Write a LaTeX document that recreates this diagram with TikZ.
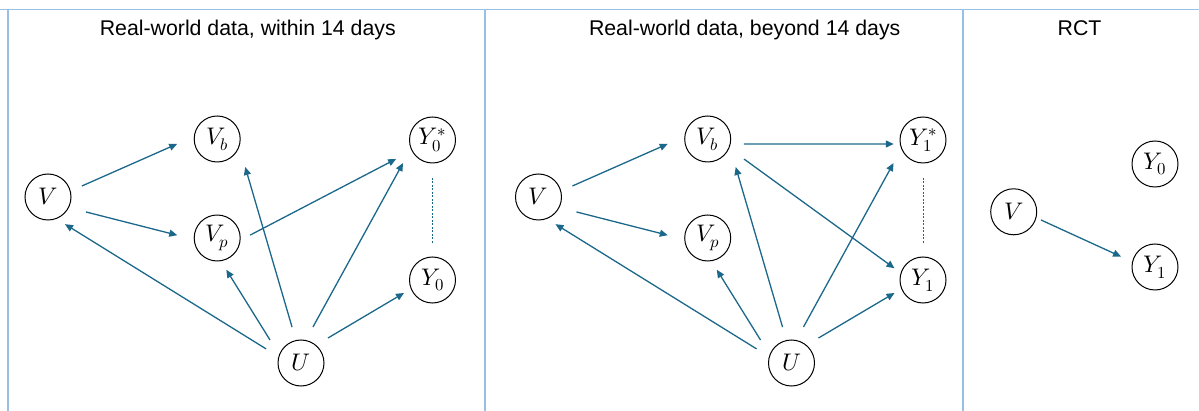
\documentclass[tikz,border=0pt]{standalone}
\usepackage{fontspec}
\usepackage{unicode-math}
\setmainfont{Liberation Sans}
\setmathfont{Latin Modern Math}
\usetikzlibrary{arrows.meta,calc}
\definecolor{arrc}{RGB}{27,104,138}
\definecolor{framec}{RGB}{150,192,230}
\tikzset{
 var/.style={circle,draw=black,line width=1pt,minimum size=46pt,inner sep=0pt,font=\fontsize{24}{24}\selectfont},
 arr/.style={draw=arrc,line width=1.3pt,-{Triangle[length=8pt,width=7pt]}},
 dsh/.style={draw=arrc,line width=1pt,dash pattern=on 2pt off 1.5pt},
 framel/.style={draw=framec,line width=2pt},
 ttl/.style={font=\fontsize{21.3}{24}\selectfont,anchor=base,inner sep=0pt}
}
\begin{document}
\begin{tikzpicture}[x=1pt,y=-1pt]
\useasboundingbox (0,0) rectangle (1199,411);
% frame
\draw[framel,line width=1.5pt] (0,9.7) -- (1199,9.7);
\draw[framel] (8,9.7) -- (8,411);
\draw[framel] (484.7,9.7) -- (484.7,411);
\draw[framel] (963,9.7) -- (963,411);
% titles
\node[ttl] (t1) at (247.8,36) {Real-world data, within 14 days};
\node[ttl] (t2) at (744.7,36) {Real-world data, beyond 14 days};
\node[ttl] (t3) at (1079.5,36) {RCT};
% panel 1
\node[var] (V1) at (48,197) {$V$};
\node[var] (Vb1) at (217.2,139) {$V_b$};
\node[var] (Vp1) at (217.2,238) {$V_p$};
\node[var] (Ys0) at (432.5,140) {$Y_0^*$};
\node[var] (Y0) at (432.5,280) {$Y_0$};
\node[var] (U1) at (301,363) {$U$};
\draw[arr] ($(V1)+(18:35.7pt)$) -- ($(Vb1)+(187:40.3pt)$);
\draw[arr] ($(V1)+(338.5:40.8pt)$) -- ($(Vp1)+(176:40pt)$);
\draw[arr] ($(U1)+(158:37.7pt)$) -- ($(V1)+(302:32pt)$);
\draw[arr] ($(U1)+(143.4:38.6pt)$) -- ($(Vp1)+(286:33pt)$);
\draw[arr] ($(U1)+(104:37pt)$) -- ($(Vb1)+(315:39.6pt)$);
\draw[arr] ($(U1)+(71.6:38pt)$) -- ($(Ys0)+(218:37.4pt)$);
\draw[arr] ($(U1)+(42.8:36.8pt)$) -- ($(Y0)+(204.5:31.3pt)$);
\draw[arr] ($(Vp1)+(5:33pt)$) -- ($(Ys0)+(207.5:41pt)$);
\draw[dsh] ($(Ys0)+(270:38pt)$) -- ($(Y0)+(90:36pt)$);
% panel 2
\node[var] (V2) at (538.5,197) {$V$};
\node[var] (Vb2) at (707.7,139) {$V_b$};
\node[var] (Vp2) at (707.7,238) {$V_p$};
\node[var] (Ys1) at (923,140) {$Y_1^*$};
\node[var] (Y1) at (923,280) {$Y_1$};
\node[var] (U2) at (791.5,363) {$U$};
\draw[arr] ($(V2)+(18:35.7pt)$) -- ($(Vb2)+(187:40.3pt)$);
\draw[arr] ($(V2)+(338.5:40.8pt)$) -- ($(Vp2)+(176:40pt)$);
\draw[arr] ($(U2)+(158:37.7pt)$) -- ($(V2)+(302:32pt)$);
\draw[arr] ($(U2)+(143.4:38.6pt)$) -- ($(Vp2)+(286:33pt)$);
\draw[arr] ($(U2)+(104:37pt)$) -- ($(Vb2)+(315:39.6pt)$);
\draw[arr] ($(U2)+(71.6:38pt)$) -- ($(Ys1)+(218:37.4pt)$);
\draw[arr] ($(U2)+(42.8:36.8pt)$) -- ($(Y1)+(204.5:31.3pt)$);
\draw[arr] ($(Vb2)+(-7.8:36.6pt)$) -- ($(Ys1)+(187.8:29.5pt)$);
\draw[arr] ($(Vb2)+(-28.9:41.5pt)$) -- ($(Y1)+(157.7:30.8pt)$);
\draw[dsh] ($(Ys1)+(270:38pt)$) -- ($(Y1)+(90:36pt)$);
% panel 3
\node[var] (V3) at (1013.7,211.8) {$V$};
\node[var] (Y0c) at (1155,164) {$Y_0$};
\node[var] (Y1c) at (1155,267) {$Y_1$};
\draw[arr] ($(V3)+(-16.7:28.5pt)$) -- ($(Y1c)+(163:35.5pt)$);
\end{tikzpicture}
\end{document}
